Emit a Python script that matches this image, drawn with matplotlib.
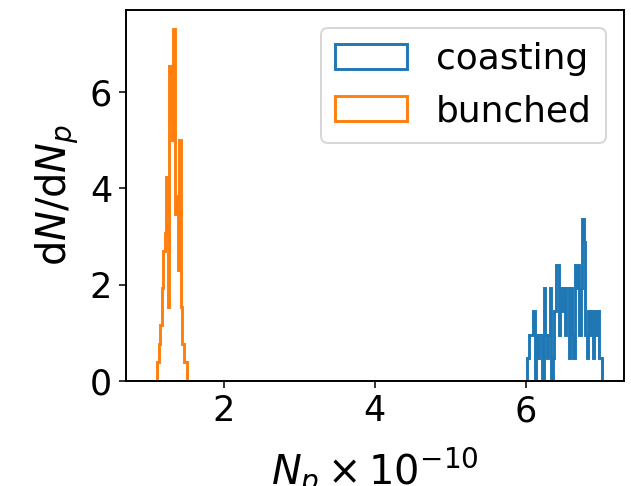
import numpy as np
import matplotlib
matplotlib.use("Agg")
import matplotlib.pyplot as plt

# bin ranges (units of 1e10 particles)
coast_lo, coast_hi = 6.02, 7.01
bunch_lo, bunch_hi = 1.115, 1.505

# densities per bin (dN/dNp)
coasting = [0.48, 0.96, 0.96, 0.96, 1.44, 0.0, 0.96, 0.48, 0.96, 0.96,
            0.0, 1.92, 0.96, 0.48, 0.96, 1.92, 0.0, 0.48, 1.44, 2.40,
            2.40, 0.96, 1.92, 1.44, 1.92, 0.96, 1.92, 1.92, 0.48, 1.92,
            0.96, 0.48, 2.40, 1.92, 2.40, 0.96, 1.92, 3.36, 2.88, 0.96,
            0.48, 1.44, 0.96, 1.44, 0.48, 1.44, 0.96, 1.44, 0.48, 0.48]
bunched = [0.385, 0.77, 1.155, 1.925, 2.695, 3.08, 4.235, 1.54, 6.545, 5.39,
           5.005, 7.315, 3.465, 3.85, 2.31, 5.005, 1.54, 0.77, 0.385, 0.385]

plt.rcParams['font.size'] = 18
plt.rcParams['axes.linewidth'] = 1.0

fig = plt.figure(figsize=(631 / 140, 486 / 140), dpi=140)
ax = fig.add_axes([125.7 / 631, 1 - 380.7 / 486, (624 - 125.7) / 631, (380.7 - 10) / 486])

edges_c = np.linspace(coast_lo, coast_hi, len(coasting) + 1)
edges_b = np.linspace(bunch_lo, bunch_hi, len(bunched) + 1)
ax.hist(edges_c[:-1], bins=edges_c, weights=coasting, histtype='step',
        lw=1.5, label='coasting')
ax.hist(edges_b[:-1], bins=edges_b, weights=bunched, histtype='step',
        lw=1.5, label='bunched')

ax.set_xlim(0.696, 7.304)
ax.set_ylim(0, 7.71)
ax.set_xticks([2, 4, 6])
ax.set_yticks([0, 2, 4, 6])
# the x label runs off the bottom edge, as in the original
ax.set_xlabel(r'$N_p \times 10^{-10}$', fontsize=20.5, labelpad=9)
ax.set_ylabel(r'd$N$/d$N_p$', fontsize=20.5)
ax.legend(loc='upper right', fontsize=18.5, borderaxespad=0.5)

fig.savefig('out.png', dpi=140)
